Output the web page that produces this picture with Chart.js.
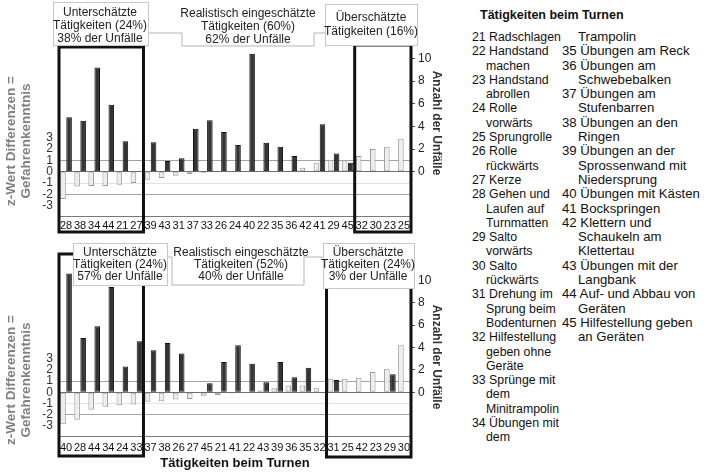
<!DOCTYPE html>
<html lang="de">
<head>
<meta charset="utf-8">
<title>Gefahrenkenntnis und Unfälle beim Turnen</title>
<script src="https://cdn.jsdelivr.net/npm/chart.js@4.4.1/dist/chart.umd.min.js"></script>
<style>
  html, body { margin: 0; padding: 0; background: #fff; }
  body { width: 720px; height: 472px; position: relative; overflow: hidden;
         font-family: "Liberation Sans", Arial, sans-serif; color: #111; }
  #topChart { position: absolute; left: 0; top: 0; }
  #bottomChart { position: absolute; left: 0; top: 236px; }
  .legend-title { position: absolute; left: 480px; top: 8px; font-weight: bold; font-size: 12.5px; }
  .legend-col { position: absolute; top: 30px; line-height: 14.3px; white-space: nowrap; }
  .col1 { left: 472px; font-size: 12.3px; }
  .col1 div { padding-left: 14px; text-indent: -14px; }
  .col2 { left: 562px; font-size: 13.2px; }
  .col2 div { padding-left: 16px; text-indent: -16px; }
  .col2 .cont { padding-left: 16px; text-indent: 0; }
</style>
</head>
<body>
<canvas id="topChart" width="452" height="240"></canvas>
<canvas id="bottomChart" width="452" height="236"></canvas>

<div class="legend-title">Tätigkeiten beim Turnen</div>
<div class="legend-col col1">
  <div>21 Radschlagen</div>
  <div>22 Handstand<br>machen</div>
  <div>23 Handstand<br>abrollen</div>
  <div>24 Rolle<br>vorwärts</div>
  <div>25 Sprungrolle</div>
  <div>26 Rolle<br>rückwärts</div>
  <div>27 Kerze</div>
  <div>28 Gehen und<br>Laufen auf<br>Turnmatten</div>
  <div>29 Salto<br>vorwärts</div>
  <div>30 Salto<br>rückwärts</div>
  <div>31 Drehung im<br>Sprung beim<br>Bodenturnen</div>
  <div>32 Hilfestellung<br>geben ohne<br>Geräte</div>
  <div>33 Sprünge mit<br>dem<br>Minitrampolin</div>
  <div>34 Übungen mit<br>dem</div>
</div>
<div class="legend-col col2">
  <div class="cont">Trampolin</div>
  <div>35 Übungen am Reck</div>
  <div>36 Übungen am<br>Schwebebalken</div>
  <div>37 Übungen am<br>Stufenbarren</div>
  <div>38 Übungen an den<br>Ringen</div>
  <div>39 Übungen an der<br>Sprossenwand mit<br>Niedersprung</div>
  <div>40 Übungen mit Kästen</div>
  <div>41 Bockspringen</div>
  <div>42 Klettern und<br>Schaukeln am<br>Klettertau</div>
  <div>43 Übungen mit der<br>Langbank</div>
  <div>44 Auf- und Abbau von<br>Geräten</div>
  <div>45 Hilfestellung geben<br>an Geräten</div>
</div>

<script>
// upper panel
var topCategories = ['28', '38', '34', '44', '21', '27', '39', '43', '31', '37', '33', '26', '24',
  '40', '22', '35', '36', '42', '41', '29', '45', '32', '30', '23', '25'];
var topZDiff = [-2.4, -1.3, -1.25, -1.25, -1.15, -1.0, -0.7, -0.55, -0.35, -0.2, -0.1, -0.05, -0.05,
  -0.05, -0.05, 0, 0.05, 0.35, 0.8, 1.05, 1.0, 1.4, 2.0, 2.2, 2.9];
var topAccidents = [4.8, 4.5, 9.2, 5.9, 2.7, 0, 2.6, 0.95, 1.2, 3.8, 4.55, 3.5, 2.35,
  10.4, 2.55, 2.2, 1.4, 0, 4.2, 1.6, 0.8, 0, 0, 0, 0];
var topUnderText = ['Unterschätzte', 'Tätigkeiten (24%)', '38% der Unfälle'];
var topRealText = ['Realistisch eingeschätzte', 'Tätigkeiten (60%)', '62% der Unfälle'];
var topOverText = ['Überschätzte', 'Tätigkeiten (16%)'];

// lower panel
var bottomCategories = ['40', '28', '44', '34', '24', '33', '37', '38', '26', '27', '45', '21', '41',
  '22', '43', '39', '36', '35', '32', '31', '25', '42', '23', '29', '30'];
var bottomZDiff = [-2.85, -2.45, -1.55, -1.3, -1.15, -1.1, -0.85, -0.8, -0.65, -0.6, -0.3, -0.25, -0.1,
  -0.02, 0.15, 0.35, 0.6, 0.6, 0.4, 1.2, 1.2, 1.3, 1.8, 2.1, 4.2];
var bottomAccidents = [10.6, 4.85, 5.9, 9.4, 2.3, 4.55, 3.75, 4.4, 3.45, 0, 0.8, 2.7, 4.2,
  2.55, 0.9, 2.7, 1.35, 2.2, 0, 1.1, 0, 0, 0, 1.6, 0];
var bottomUnderText = ['Unterschätzte', 'Tätigkeiten (24%)', '57% der Unfälle'];
var bottomRealText = ['Realistisch eingeschätzte', 'Tätigkeiten (52%)', '40% der Unfälle'];
var bottomOverText = ['Überschätzte', 'Tätigkeiten (24%)', '3% der Unfälle'];

var leftTicks = [-3, -2, -1, 0, 1, 2, 3];
var rightTicks = [0, 2, 4, 6, 8, 10];
var leftTitle = ['z-Wert Differenzen =', 'Gefahrenkenntnis'];
var rightTitle = 'Anzahl der Unfälle';

Chart.defaults.font.family = '"Liberation Sans", Arial, sans-serif';
Chart.defaults.color = '#111';

function groupsPlugin(cfg) {
  return {
    id: 'groups',
    afterDatasetsDraw: function (chart) {
      var ctx = chart.ctx;
      var x = chart.scales.x;
      var step = x.getPixelForValue(1) - x.getPixelForValue(0);

      ctx.save();
      // thick frames around the under- and overestimated groups
      ctx.strokeStyle = '#111';
      ctx.lineWidth = 3;
      cfg.frames.forEach(function (f) {
        var l = x.getPixelForValue(f.from) - step / 2;
        var r = x.getPixelForValue(f.to) + step / 2;
        ctx.strokeRect(l, f.top, r - l, f.bottom - f.top);
      });

      // bracket for the middle group
      var b = cfg.bracket;
      ctx.strokeStyle = '#b5b5b5';
      ctx.lineWidth = 1;
      ctx.beginPath();
      ctx.moveTo(b.x0, b.y0);
      ctx.lineTo(b.x1, b.y0);
      ctx.lineTo(b.x1, b.y1);
      ctx.lineTo(b.x2, b.y1);
      ctx.lineTo(b.x2, b.y0);
      ctx.lineTo(b.x3, b.y0);
      ctx.stroke();

      // label boxes
      ctx.font = '12px "Liberation Sans", Arial, sans-serif';
      ctx.textAlign = 'center';
      ctx.textBaseline = 'middle';
      cfg.boxes.forEach(function (box) {
        if (box.w) {
          ctx.fillStyle = '#fff';
          ctx.fillRect(box.x, box.y, box.w, box.h);
          ctx.strokeStyle = '#c8c8c8';
          ctx.strokeRect(box.x + 0.5, box.y + 0.5, box.w, box.h);
        }
        ctx.fillStyle = '#222';
        box.text.forEach(function (line, i) {
          ctx.fillText(line, box.cx, box.ty + i * box.lh);
        });
      });

      // axis titles
      var t = cfg.titles;
      ctx.save();
      ctx.translate(t.leftX, t.leftY);
      ctx.rotate(-Math.PI / 2);
      ctx.font = 'bold 13.5px "Liberation Sans", Arial, sans-serif';
      ctx.fillStyle = '#808080';
      leftTitle.forEach(function (line, i) {
        ctx.fillText(line, 0, i * 15);
      });
      ctx.restore();

      ctx.save();
      ctx.translate(t.rightX, t.rightY);
      ctx.rotate(Math.PI / 2);
      ctx.font = 'bold 12px "Liberation Sans", Arial, sans-serif';
      ctx.fillStyle = '#333';
      ctx.fillText(rightTitle, 0, 0);
      ctx.restore();

      ctx.restore();
    }
  };
}

function makePanel(canvas, categories, zDiff, accidents, opts) {
  return new Chart(canvas, {
    type: 'bar',
    data: {
      labels: categories,
      datasets: [{
        label: 'z-Wert Differenz',
        data: zDiff,
        backgroundColor: '#ededed',
        borderColor: '#9a9a9a',
        borderWidth: 1,
        borderSkipped: false,
        categoryPercentage: 0.86,
        barPercentage: 0.92
      }, {
        label: 'Anzahl der Unfälle',
        data: accidents,
        backgroundColor: '#343434',
        borderColor: '#111',
        borderWidth: 1,
        borderSkipped: false,
        categoryPercentage: 0.86,
        barPercentage: 0.92
      }]
    },
    options: {
      responsive: false,
      animation: false,
      devicePixelRatio: 1,
      layout: { padding: { top: opts.padTop, left: 0, right: 0, bottom: 0 } },
      plugins: {
        legend: { display: false },
        tooltip: { enabled: false }
      },
      scales: {
        x: {
          grid: { display: false, drawTicks: false },
          border: { color: '#7a7a7a' },
          ticks: {
            autoSkip: false,
            maxRotation: 0,
            padding: opts.xPad,
            color: '#111',
            font: { size: 11 }
          },
          title: {
            display: !!opts.xTitle,
            text: opts.xTitle || '',
            color: '#111',
            font: { size: 13, weight: 'bold' },
            padding: { top: 0, bottom: 1 }
          },
          afterFit: function (scale) { scale.height = opts.xHeight; }
        },
        y: {
          position: 'left',
          min: -3.9,
          max: 11,
          ticks: {
            stepSize: 1,
            autoSkip: false,
            includeBounds: false,
            padding: 6,
            color: '#333',
            font: { size: 12 },
            callback: function (v) { return leftTicks.indexOf(v) >= 0 ? String(v) : ''; }
          },
          grid: {
            drawTicks: false,
            lineWidth: 1,
            color: function (c) {
              var v = c.tick && c.tick.value;
              if (v === 0) return '#6e6e6e';
              if (v === 1 || v === -2) return '#a5a5a5';
              if (v === -1) return '#e2e2e2';
              return 'rgba(0,0,0,0)';
            }
          },
          border: { color: '#d0d0d0' },
          afterFit: function (scale) { scale.width = 59; }
        },
        y2: {
          position: 'right',
          min: -3.9,
          max: 11,
          ticks: {
            stepSize: 2,
            autoSkip: false,
            includeBounds: false,
            padding: 3,
            color: '#222',
            font: { size: 12 },
            callback: function (v) { return rightTicks.indexOf(v) >= 0 ? String(v) : ''; }
          },
          grid: {
            drawOnChartArea: false,
            drawTicks: true,
            tickLength: 4,
            tickColor: function (c) {
              return c.tick && c.tick.value >= 0 ? '#555' : 'rgba(0,0,0,0)';
            }
          },
          border: { color: '#555' },
          afterFit: function (scale) { scale.width = 41; }
        }
      }
    },
    plugins: [groupsPlugin(opts.groups)]
  });
}

makePanel(document.getElementById('topChart'), topCategories, topZDiff, topAccidents, {
  padTop: 47,
  xHeight: 24,
  xPad: 3,
  xTitle: '',
  groups: {
    frames: [
      { from: 0, to: 5, top: 47, bottom: 232 },
      { from: 21, to: 24, top: 45, bottom: 232 }
    ],
    bracket: { x0: 148, x1: 182, x2: 314, x3: 325, y0: 33, y1: 46 },
    boxes: [
      { x: 53, y: 2, w: 95, h: 43, cx: 100, ty: 13, lh: 13, text: topUnderText },
      { cx: 248, ty: 14, lh: 13, text: topRealText },
      { x: 325, y: 4, w: 92, h: 41, cx: 371, ty: 18, lh: 14, text: topOverText }
    ],
    titles: { leftX: 11, leftY: 141, rightX: 436, rightY: 123 }
  }
});

makePanel(document.getElementById('bottomChart'), bottomCategories, bottomZDiff, bottomAccidents, {
  padTop: 33,
  xHeight: 36,
  xPad: 5,
  xTitle: 'Tätigkeiten beim Turnen',
  groups: {
    frames: [
      { from: 0, to: 5, top: 18, bottom: 220 },
      { from: 19, to: 24, top: 48, bottom: 221 }
    ],
    bracket: { x0: 167, x1: 172, x2: 304, x3: 323, y0: 21, y1: 49 },
    boxes: [
      { x: 73, y: 7, w: 94, h: 42, cx: 120, ty: 17, lh: 12, text: bottomUnderText },
      { cx: 241, ty: 17, lh: 12, text: bottomRealText },
      { x: 323, y: 7, w: 91, h: 45, cx: 368, ty: 17, lh: 12, text: bottomOverText }
    ],
    titles: { leftX: 11, leftY: 144, rightX: 436, rightY: 121 }
  }
});
</script>
</body>
</html>
